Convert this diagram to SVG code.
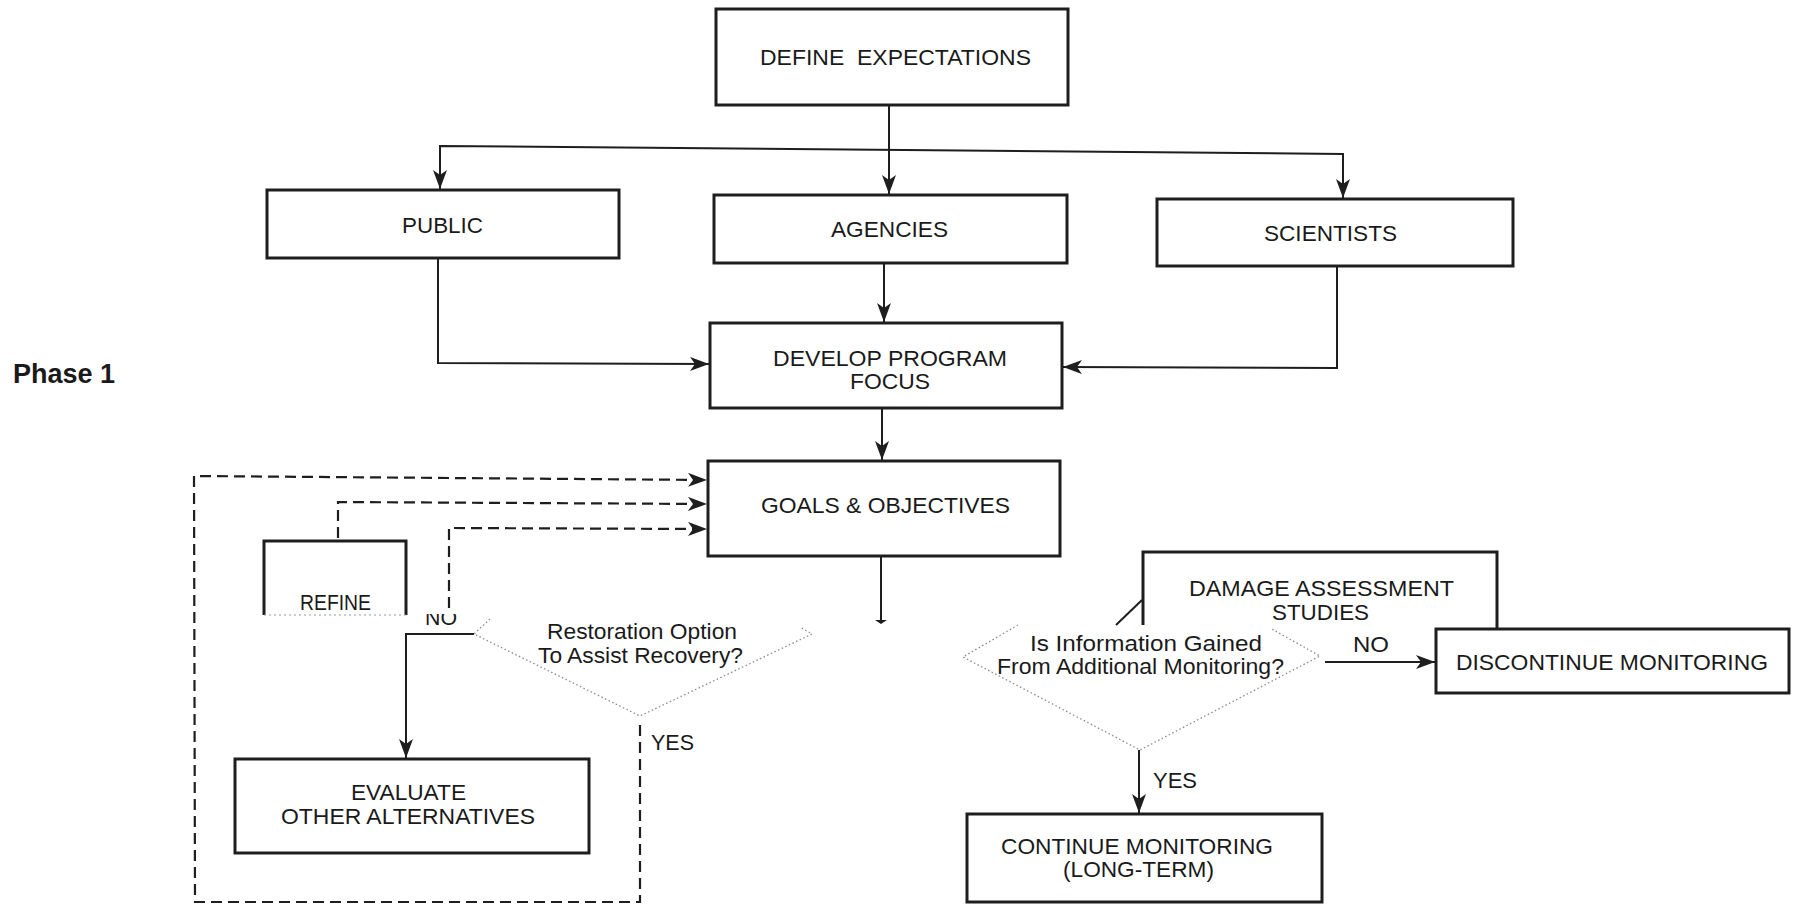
<svg xmlns="http://www.w3.org/2000/svg" width="1797" height="906" viewBox="0 0 1797 906">
<style>
.box{fill:#fff;stroke:#1e1e1e;stroke-width:3}
.ln{fill:none;stroke:#1e1e1e;stroke-width:2}
.ds{fill:none;stroke:#1e1e1e;stroke-width:2.2;stroke-dasharray:11 6}
.dia{fill:none;stroke:#8a8a8a;stroke-width:1.3;stroke-dasharray:1.5 2.5}
.t{font-family:"Liberation Sans",Arial,sans-serif;font-size:22px;fill:#1a1a1a;white-space:pre}
.ph{font-family:"Liberation Sans",Arial,sans-serif;font-size:27px;font-weight:bold;fill:#1a1a1a}
</style>
<defs>
<marker id="ah" markerUnits="userSpaceOnUse" markerWidth="20" markerHeight="14" refX="19" refY="7" orient="auto">
<path d="M0,0 L19,7 L0,14 L5,7 z" fill="#1e1e1e"/>
</marker>
<clipPath id="noclip"><rect x="400" y="614" width="80" height="20"/></clipPath>
</defs>
<rect width="1797" height="906" fill="#fff"/>

<text class="ph" x="13" y="383">Phase 1</text>

<g id="connectors">
<line class="ln" x1="889" y1="105" x2="889" y2="194" marker-end="url(#ah)"/>
<polyline class="ln" points="440,189 440,146 1343,154 1343,198" marker-end="url(#ah)"/>
<line class="ln" x1="440" y1="146" x2="440" y2="189" marker-end="url(#ah)"/>
<polyline class="ln" points="438,258 438,363 709,364" marker-end="url(#ah)"/>
<line class="ln" x1="884" y1="263" x2="884" y2="322" marker-end="url(#ah)"/>
<polyline class="ln" points="1337,266 1337,368 1063,367" marker-end="url(#ah)"/>
<line class="ln" x1="882" y1="408" x2="882" y2="460" marker-end="url(#ah)"/>
<line class="ln" x1="881" y1="556" x2="881" y2="622"/>
<path d="M875,620 L887,620 L881,624 z" fill="#1e1e1e"/>
<polyline class="ds" points="640,725 640,902 195,902 194,476 707,480" marker-end="url(#ah)"/>
<polyline class="ds" points="338,538 338,502 707,504" marker-end="url(#ah)"/>
<polyline class="ds" points="449,608 449,528 707,529" marker-end="url(#ah)"/>
<polyline class="ln" points="474,634 406,634 406,758" marker-end="url(#ah)"/>
<line class="ln" x1="1325" y1="662" x2="1435" y2="662" marker-end="url(#ah)"/>
<line class="ln" x1="1139" y1="750" x2="1139" y2="813" marker-end="url(#ah)"/>
<line class="ln" x1="1142" y1="600" x2="1116" y2="625"/>
</g>

<g id="define">
<rect class="box" x="716" y="9" width="352" height="96"/>
<text class="t" x="760" y="65" textLength="271" lengthAdjust="spacingAndGlyphs">DEFINE  EXPECTATIONS</text>
</g>
<g id="public">
<rect class="box" x="267" y="190" width="352" height="68"/>
<text class="t" x="402" y="233" textLength="81" lengthAdjust="spacingAndGlyphs">PUBLIC</text>
</g>
<g id="agencies">
<rect class="box" x="714" y="195" width="353" height="68"/>
<text class="t" x="831" y="237" textLength="117" lengthAdjust="spacingAndGlyphs">AGENCIES</text>
</g>
<g id="scientists">
<rect class="box" x="1157" y="199" width="356" height="67"/>
<text class="t" x="1264" y="241" textLength="133" lengthAdjust="spacingAndGlyphs">SCIENTISTS</text>
</g>
<g id="develop">
<rect class="box" x="710" y="323" width="352" height="85"/>
<text class="t" x="773" y="366" textLength="234" lengthAdjust="spacingAndGlyphs">DEVELOP PROGRAM</text>
<text class="t" x="850" y="389" textLength="80" lengthAdjust="spacingAndGlyphs">FOCUS</text>
</g>
<g id="goals">
<rect class="box" x="708" y="461" width="352" height="95"/>
<text class="t" x="761" y="513" textLength="249" lengthAdjust="spacingAndGlyphs">GOALS &amp; OBJECTIVES</text>
</g>
<g id="refine">
<path class="box" style="fill:none" d="M264,615 L264,541 L406,541 L406,615"/>
<line x1="264" y1="615" x2="406" y2="615" stroke="#9a9a9a" stroke-width="1.2" stroke-dasharray="2 3"/>
<text class="t" x="300" y="610" textLength="71" lengthAdjust="spacingAndGlyphs">REFINE</text>
</g>
<g id="restoration-decision">
<path class="dia" d="M490,619 L474,634 L640,716 L812,634 L800,627"/>
<text class="t" x="547" y="639" textLength="190" lengthAdjust="spacingAndGlyphs">Restoration Option</text>
<text class="t" x="538" y="663" textLength="205" lengthAdjust="spacingAndGlyphs">To Assist Recovery?</text>
<text class="t" x="425" y="625" textLength="32" lengthAdjust="spacingAndGlyphs" clip-path="url(#noclip)">NO</text>
<text class="t" x="651" y="750" textLength="43" lengthAdjust="spacingAndGlyphs">YES</text>
</g>
<g id="evaluate">
<rect class="box" x="235" y="759" width="354" height="94"/>
<text class="t" x="351" y="800" textLength="115" lengthAdjust="spacingAndGlyphs">EVALUATE</text>
<text class="t" x="281" y="824" textLength="254" lengthAdjust="spacingAndGlyphs">OTHER ALTERNATIVES</text>
</g>
<g id="damage">
<path class="box" style="fill:none" d="M1143,625 L1143,552 L1497,552 L1497,629"/>
<text class="t" x="1189" y="596" textLength="265" lengthAdjust="spacingAndGlyphs">DAMAGE ASSESSMENT</text>
<text class="t" x="1272" y="620" textLength="97" lengthAdjust="spacingAndGlyphs">STUDIES</text>
</g>
<g id="information-decision">
<path class="dia" d="M1018,625 L963,657 L1140,750 L1320,656 L1270,628"/>
<text class="t" x="1030" y="651" textLength="232" lengthAdjust="spacingAndGlyphs">Is Information Gained</text>
<text class="t" x="997" y="674" textLength="287" lengthAdjust="spacingAndGlyphs">From Additional Monitoring?</text>
<text class="t" x="1353" y="652" textLength="36" lengthAdjust="spacingAndGlyphs">NO</text>
<text class="t" x="1153" y="788" textLength="44" lengthAdjust="spacingAndGlyphs">YES</text>
</g>
<g id="discontinue">
<rect class="box" x="1436" y="629" width="353" height="64"/>
<text class="t" x="1456" y="670" textLength="312" lengthAdjust="spacingAndGlyphs">DISCONTINUE MONITORING</text>
</g>
<g id="continue">
<rect class="box" x="967" y="814" width="355" height="88"/>
<text class="t" x="1001" y="854" textLength="272" lengthAdjust="spacingAndGlyphs">CONTINUE MONITORING</text>
<text class="t" x="1063" y="877" textLength="151" lengthAdjust="spacingAndGlyphs">(LONG-TERM)</text>
</g>
</svg>
